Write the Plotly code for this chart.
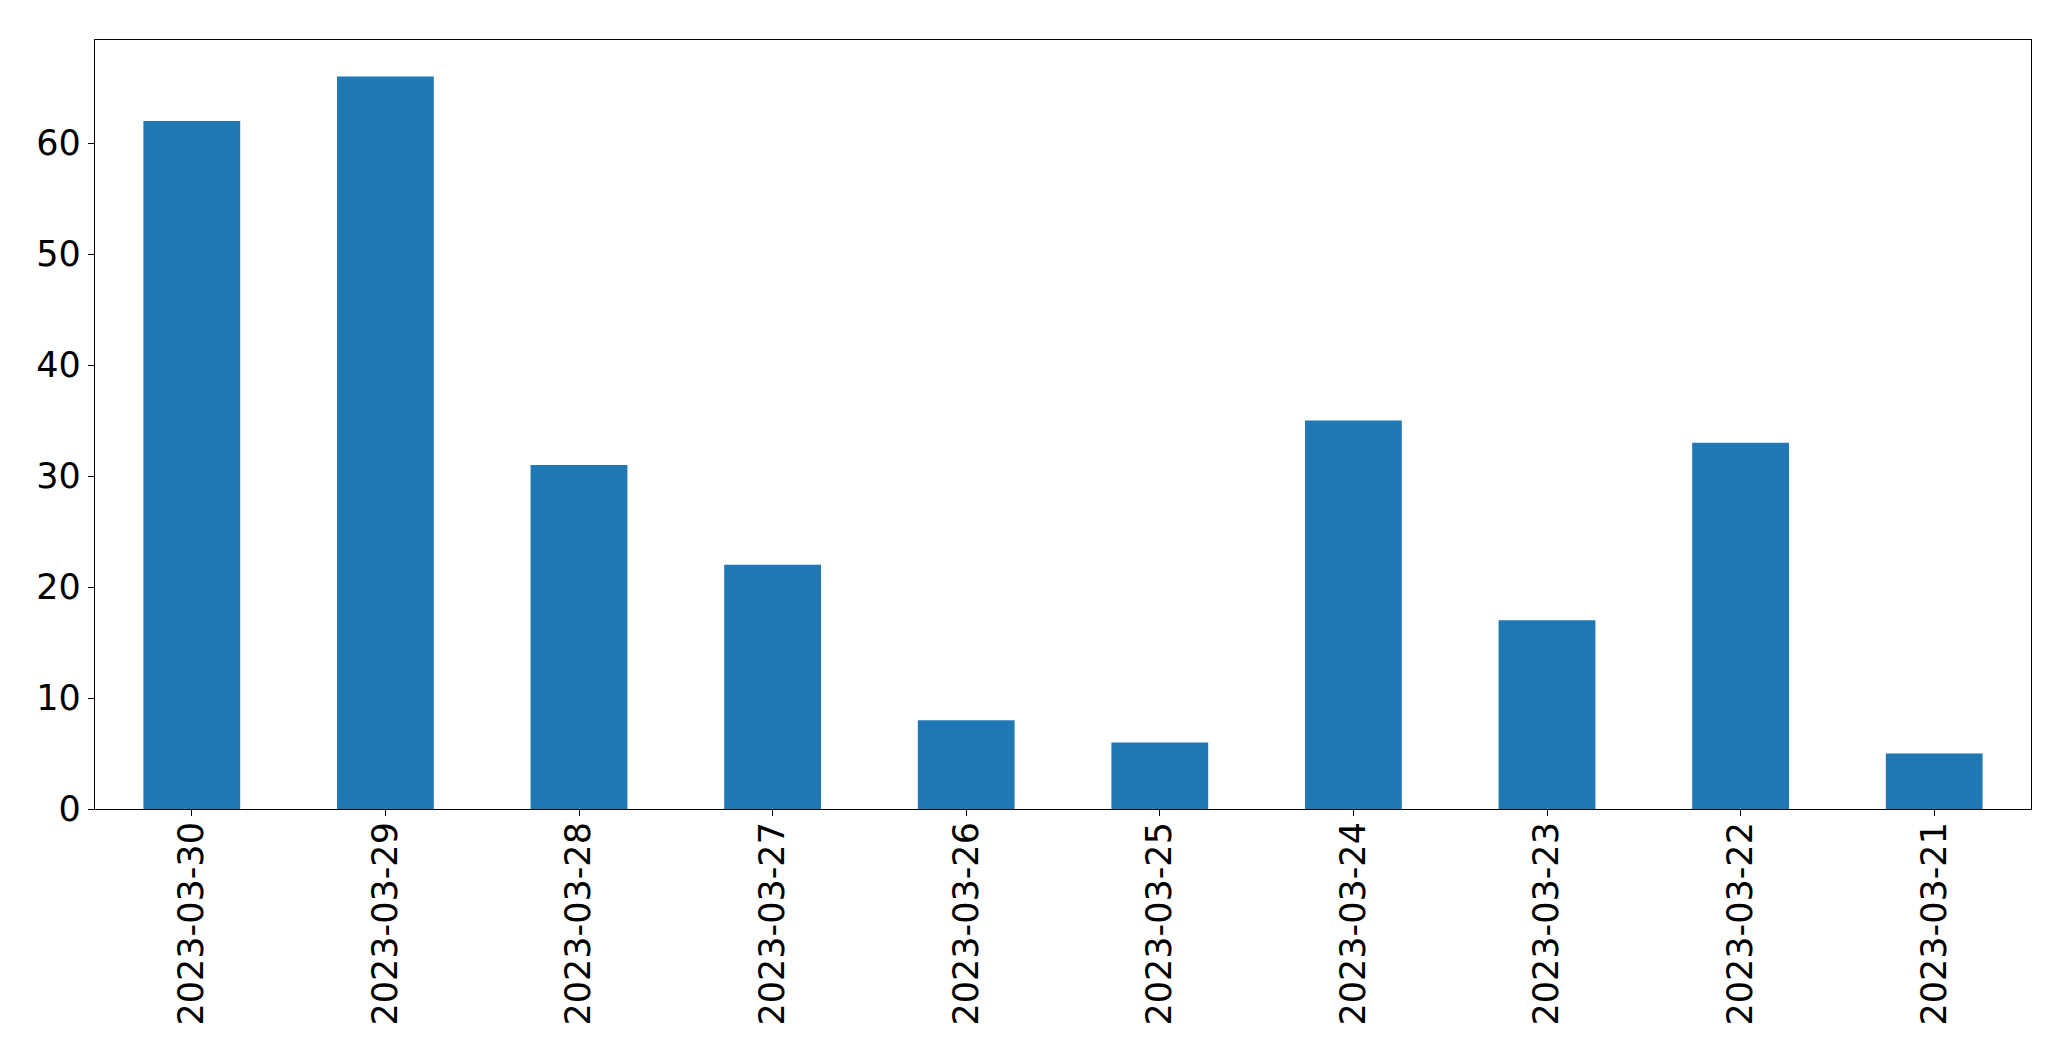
import plotly.graph_objects as go

dates = ["2023-03-30", "2023-03-29", "2023-03-28", "2023-03-27", "2023-03-26",
         "2023-03-25", "2023-03-24", "2023-03-23", "2023-03-22", "2023-03-21"]
counts = [62, 66, 31, 22, 8, 6, 35, 17, 33, 5]
y_ticks = [0, 10, 20, 30, 40, 50, 60]

fig = go.Figure(go.Bar(x=dates, y=counts, marker=dict(color="#1f77b4", line=dict(width=0)), width=0.5))

fig.update_layout(
    width=2055, height=1045,
    margin=dict(l=87, r=32, t=32, b=244, pad=0),
    paper_bgcolor="white", plot_bgcolor="white",
    font=dict(family="DejaVu Sans", size=35, color="black"),
    showlegend=False,
    bargap=0.5,
)
fig.update_xaxes(
    type="category", range=[-0.5, len(dates) - 0.5], automargin=False,
    tickangle=-90, ticks="outside", ticklen=6, tickwidth=1.2, tickcolor="black",
    ticklabelstandoff=-8,
    showline=True, linecolor="black", linewidth=1.2, mirror=True,
    showgrid=False, zeroline=False,
)
fig.update_yaxes(
    range=[0, 69.3], tickvals=y_ticks, automargin=False,
    ticks="outside", ticklen=6, tickwidth=1.2, tickcolor="black",
    showline=True, linecolor="black", linewidth=1.2, mirror=True,
    showgrid=False, zeroline=False,
)
fig.write_html("out.html")
